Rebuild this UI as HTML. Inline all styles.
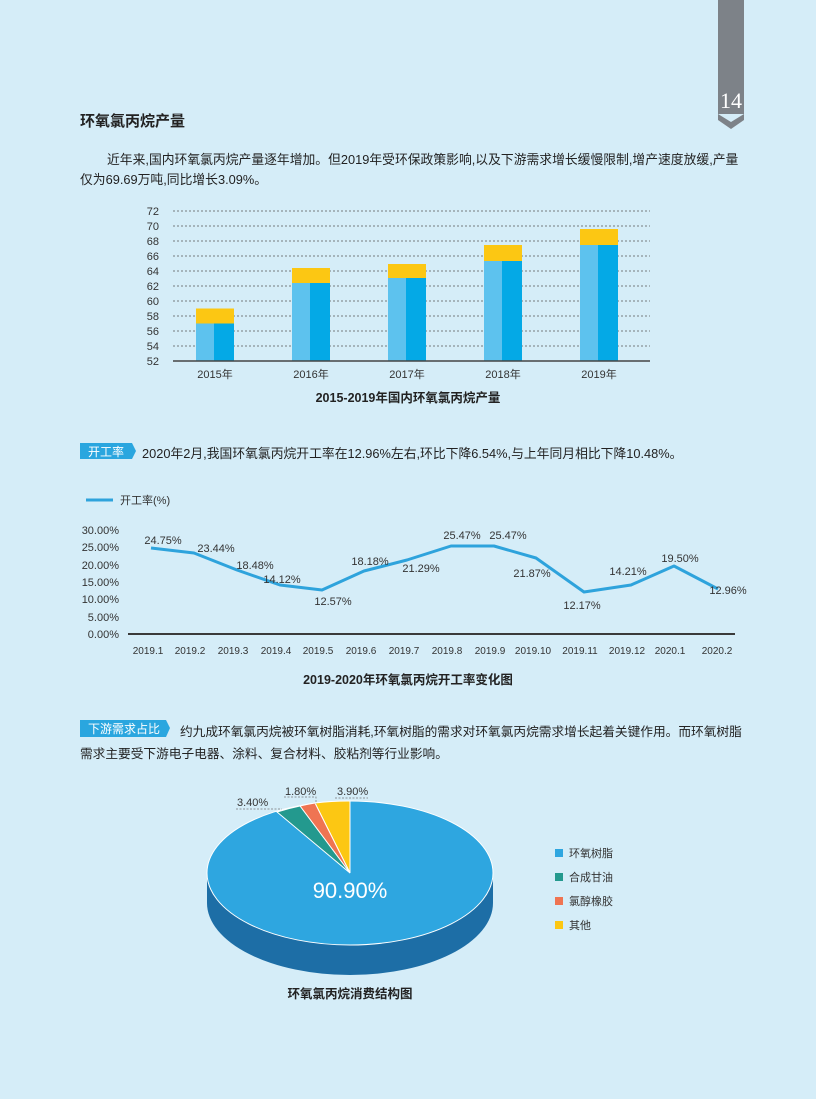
<!DOCTYPE html>
<html><head><meta charset="utf-8"><style>
html,body{margin:0;padding:0}
body{width:816px;height:1099px;background:#d5edf8;position:relative;overflow:hidden;font-family:"Liberation Sans","Noto Sans CJK SC",sans-serif;color:#2a2a2a}
.t{position:absolute;white-space:nowrap}
</style></head><body>
<svg width="816" height="1099" style="position:absolute;left:0;top:0" font-family="Liberation Sans, Noto Sans CJK SC, sans-serif">
<!-- page tab -->
<rect x="718" y="0" width="26" height="114" fill="#7d8288"/>
<polygon points="718,114 731,122 744,114 744,120 731,129 718,120" fill="#7d8288"/>
<text x="731" y="108" font-family="Liberation Serif, serif" font-size="22" fill="#fff" text-anchor="middle">14</text>

<!-- bar chart -->
<g stroke="#555" stroke-width="0.8" stroke-dasharray="2,2">
<line x1="173" x2="650" y1="211" y2="211"/><line x1="173" x2="650" y1="226" y2="226"/>
<line x1="173" x2="650" y1="241" y2="241"/><line x1="173" x2="650" y1="256" y2="256"/>
<line x1="173" x2="650" y1="271" y2="271"/><line x1="173" x2="650" y1="286" y2="286"/>
<line x1="173" x2="650" y1="301" y2="301"/><line x1="173" x2="650" y1="316" y2="316"/>
<line x1="173" x2="650" y1="331" y2="331"/><line x1="173" x2="650" y1="346" y2="346"/>
</g>
<g font-size="11" fill="#333" text-anchor="end">
<text x="159" y="215">72</text><text x="159" y="230">70</text><text x="159" y="245">68</text><text x="159" y="260">66</text><text x="159" y="275">64</text><text x="159" y="290">62</text><text x="159" y="305">60</text><text x="159" y="320">58</text><text x="159" y="335">56</text><text x="159" y="350">54</text><text x="159" y="365">52</text>
</g>
<g>
<rect x="196" y="308.5" width="38" height="15" fill="#fcc713"/><rect x="196" y="323.5" width="18" height="37.5" fill="#5dc2ee"/><rect x="214" y="323.5" width="20" height="37.5" fill="#04a9e6"/>
<rect x="292" y="268" width="38" height="15" fill="#fcc713"/><rect x="292" y="283" width="18" height="78" fill="#5dc2ee"/><rect x="310" y="283" width="20" height="78" fill="#04a9e6"/>
<rect x="388" y="264" width="38" height="14" fill="#fcc713"/><rect x="388" y="278" width="18" height="83" fill="#5dc2ee"/><rect x="406" y="278" width="20" height="83" fill="#04a9e6"/>
<rect x="484" y="245" width="38" height="16" fill="#fcc713"/><rect x="484" y="261" width="18" height="100" fill="#5dc2ee"/><rect x="502" y="261" width="20" height="100" fill="#04a9e6"/>
<rect x="580" y="229" width="38" height="16" fill="#fcc713"/><rect x="580" y="245" width="18" height="116" fill="#5dc2ee"/><rect x="598" y="245" width="20" height="116" fill="#04a9e6"/>
</g>
<line x1="173" x2="650" y1="361" y2="361" stroke="#444" stroke-width="1.5"/>
<g font-size="11" fill="#333" text-anchor="middle">
<text x="215" y="378">2015年</text><text x="311" y="378">2016年</text><text x="407" y="378">2017年</text><text x="503" y="378">2018年</text><text x="599" y="378">2019年</text>
</g>
<text x="408" y="402" font-size="12.5" font-weight="bold" fill="#222" text-anchor="middle">2015-2019年国内环氧氯丙烷产量</text>

<!-- section tag 1 -->
<polygon points="80,443 132,443 136,451 132,459 80,459" fill="#2aa6df"/>
<text x="106" y="456" font-size="12" fill="#fff" text-anchor="middle">开工率</text>

<!-- line chart -->
<line x1="86" x2="113" y1="500" y2="500" stroke="#2ea3dc" stroke-width="3"/>
<text x="120" y="504" font-size="11" fill="#333">开工率(%)</text>
<g font-size="11" fill="#333" text-anchor="end">
<text x="119" y="534">30.00%</text><text x="119" y="551">25.00%</text><text x="119" y="569">20.00%</text><text x="119" y="586">15.00%</text><text x="119" y="603">10.00%</text><text x="119" y="621">5.00%</text><text x="119" y="638">0.00%</text>
</g>
<line x1="128" x2="735" y1="634" y2="634" stroke="#3a3a3a" stroke-width="2"/>
<polyline fill="none" stroke="#2ea3dc" stroke-width="3" stroke-linejoin="round" points="151,548 194,553 237,570 280,585 322,590 364,571 407,560 451,546 494,546 536,558 584,592 631,585 674,566 718,589"/>
<g font-size="11" fill="#333" text-anchor="middle">
<text x="163" y="544">24.75%</text><text x="216" y="552">23.44%</text><text x="255" y="569">18.48%</text><text x="282" y="583">14.12%</text><text x="333" y="605">12.57%</text><text x="370" y="565">18.18%</text><text x="421" y="572">21.29%</text><text x="462" y="539">25.47%</text><text x="508" y="539">25.47%</text><text x="532" y="577">21.87%</text><text x="582" y="609">12.17%</text><text x="628" y="575">14.21%</text><text x="680" y="562">19.50%</text><text x="728" y="594">12.96%</text>
</g>
<g font-size="10" fill="#333" text-anchor="middle">
<text x="148" y="654">2019.1</text><text x="190" y="654">2019.2</text><text x="233" y="654">2019.3</text><text x="276" y="654">2019.4</text><text x="318" y="654">2019.5</text><text x="361" y="654">2019.6</text><text x="404" y="654">2019.7</text><text x="447" y="654">2019.8</text><text x="490" y="654">2019.9</text><text x="533" y="654">2019.10</text><text x="580" y="654">2019.11</text><text x="627" y="654">2019.12</text><text x="670" y="654">2020.1</text><text x="717" y="654">2020.2</text>
</g>
<text x="408" y="684" font-size="12.5" font-weight="bold" fill="#222" text-anchor="middle">2019-2020年环氧氯丙烷开工率变化图</text>

<!-- section tag 2 -->
<polygon points="80,720 166,720 170,728 166,737 80,737" fill="#2aa6df"/>
<text x="124" y="733" font-size="12" fill="#fff" text-anchor="middle">下游需求占比</text>

<!-- pie -->
<path d="M207,873 L207,903 A143,72 0 0 0 493,903 L493,873 Z" fill="#1d6ea6"/>
<ellipse cx="350" cy="873" rx="143" ry="72" fill="#2ea6e0" stroke="#fff" stroke-width="1"/>
<path d="M350,873 L350,801 A143,72 0 0 0 315,803 Z" fill="#fcc713" stroke="#fff" stroke-width="1"/>
<path d="M350,873 L315,803 A143,72 0 0 0 300,806 Z" fill="#ef7452" stroke="#fff" stroke-width="1"/>
<path d="M350,873 L300,806 A143,72 0 0 0 277,812 Z" fill="#23998e" stroke="#fff" stroke-width="1"/>
<text x="350" y="898" font-size="22" fill="#fff" text-anchor="middle">90.90%</text>
<g stroke="#777" stroke-width="0.7" stroke-dasharray="2,1.5" fill="none">
<polyline points="236,809 282,809"/><polyline points="284,797 316,797 316,804"/><polyline points="335,798 368,798"/>
</g>
<g font-size="11" fill="#333">
<text x="237" y="806">3.40%</text><text x="285" y="795">1.80%</text><text x="337" y="795">3.90%</text>
</g>
<g font-size="11" fill="#333">
<rect x="555" y="849" width="8" height="8" fill="#2ea6e0"/><text x="569" y="857">环氧树脂</text>
<rect x="555" y="873" width="8" height="8" fill="#23998e"/><text x="569" y="881">合成甘油</text>
<rect x="555" y="897" width="8" height="8" fill="#ef7452"/><text x="569" y="905">氯醇橡胶</text>
<rect x="555" y="921" width="8" height="8" fill="#fcc713"/><text x="569" y="929">其他</text>
</g>
<text x="350" y="998" font-size="12.5" font-weight="bold" fill="#222" text-anchor="middle">环氧氯丙烷消费结构图</text>
</svg>

<div class="t" style="left:80px;top:110px;font-size:15px;font-weight:bold;color:#222">环氧氯丙烷产量</div>
<div class="t" style="left:107px;top:149px;font-size:12.8px;color:#222">近年来,国内环氧氯丙烷产量逐年增加。但2019年受环保政策影响,以及下游需求增长缓慢限制,增产速度放缓,产量</div>
<div class="t" style="left:80px;top:169px;font-size:12.8px;color:#222">仅为69.69万吨,同比增长3.09%。</div>
<div class="t" style="left:142px;top:443px;font-size:12.8px;color:#222">2020年2月,我国环氧氯丙烷开工率在12.96%左右,环比下降6.54%,与上年同月相比下降10.48%。</div>
<div class="t" style="left:180px;top:721px;font-size:12.7px;color:#222">约九成环氧氯丙烷被环氧树脂消耗,环氧树脂的需求对环氧氯丙烷需求增长起着关键作用。而环氧树脂</div>
<div class="t" style="left:80px;top:743px;font-size:12.7px;color:#222">需求主要受下游电子电器、涂料、复合材料、胶粘剂等行业影响。</div>
</body></html>
